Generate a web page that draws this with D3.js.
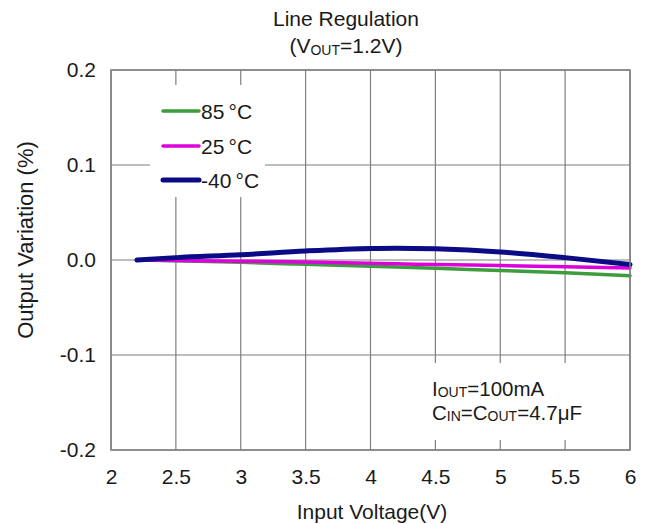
<!DOCTYPE html>
<html>
<head>
<meta charset="utf-8">
<script src="https://d3js.org/d3.v7.min.js"></script>
<style>
  body { margin: 0; background: #fff; }
  text { font-family: "Liberation Sans", Arial, sans-serif; fill: #1a1a1a; }
</style>
</head>
<body>
<div id="chart"></div>
<script>
// data
var vin = [2.2, 2.5, 3.0, 3.5, 4.0, 4.2, 4.5, 5.0, 5.5, 6.0];
var t85 = [0, -0.0008, -0.0025, -0.0045, -0.0065, -0.0073, -0.0088, -0.011, -0.0135, -0.0165];
var t25 = [0, -0.0004, -0.0012, -0.0022, -0.0035, -0.004, -0.0048, -0.0058, -0.007, -0.0085];
var tm40 = [0, 0.0025, 0.0055, 0.0095, 0.0122, 0.0125, 0.0118, 0.0085, 0.0025, -0.0048];
var seriesNames = ["85", "25", "-40"];
var xTicks = [2, 2.5, 3, 3.5, 4, 4.5, 5, 5.5, 6];
var yTicks = [-0.2, -0.1, 0, 0.1, 0.2];

var W = 653, H = 524;
var margin = {top: 70, right: 23, bottom: 74, left: 111};
var width = W - margin.left - margin.right,
    height = H - margin.top - margin.bottom;

var svg = d3.select("#chart").append("svg")
    .attr("width", W).attr("height", H);

var g = svg.append("g")
    .attr("transform", "translate(" + margin.left + "," + margin.top + ")");

var x = d3.scaleLinear().domain([2, 6]).range([0, width]);
var y = d3.scaleLinear().domain([-0.2, 0.2]).range([height, 0]);

// grid
g.append("g").selectAll("line").data(xTicks).enter().append("line")
    .attr("x1", function(d) { return x(d); }).attr("x2", function(d) { return x(d); })
    .attr("y1", 0).attr("y2", height)
    .attr("stroke", "#7f7f7f").attr("stroke-width", 1.2);
g.append("g").selectAll("line").data(yTicks).enter().append("line")
    .attr("y1", function(d) { return y(d); }).attr("y2", function(d) { return y(d); })
    .attr("x1", 0).attr("x2", width)
    .attr("stroke", "#7f7f7f").attr("stroke-width", 1.2);

// white boxes behind legend and note
g.append("rect").attr("x", 150 - margin.left).attr("y", 85 - margin.top)
    .attr("width", 115).attr("height", 112).attr("fill", "#fff");
g.append("rect").attr("x", 416 - margin.left).attr("y", 363 - margin.top)
    .attr("width", width - (416 - margin.left) - 1).attr("height", 77).attr("fill", "#fff");

// tick labels
var xAxis = g.append("g")
    .attr("transform", "translate(0," + height + ")")
    .call(d3.axisBottom(x).tickValues(xTicks).tickSize(0).tickPadding(19)
      .tickFormat(function(d) { return String(d); }));
xAxis.select(".domain").remove();
xAxis.selectAll("text").attr("font-size", "21px").attr("fill", "#1a1a1a")
    .style("font-family", "Liberation Sans, Arial, sans-serif");

var yAxis = g.append("g")
    .call(d3.axisLeft(y).tickValues(yTicks).tickSize(0).tickPadding(15)
      .tickFormat(function(d) { return d.toFixed(1); }));
yAxis.select(".domain").remove();
yAxis.selectAll("text").attr("font-size", "21px").attr("fill", "#1a1a1a")
    .style("font-family", "Liberation Sans, Arial, sans-serif");

// series
var colors = ["#3d9c3d", "#dd00dd", "#0b0b85"];
var widths = [3.5, 3.5, 5];
var allSeries = [t85, t25, tm40];
var line = d3.line()
    .x(function(d, i) { return x(vin[i]); })
    .y(function(d) { return y(d); })
    .curve(d3.curveMonotoneX);

allSeries.forEach(function(s, k) {
  g.append("path").datum(s)
    .attr("d", line)
    .attr("fill", "none")
    .attr("stroke", colors[k])
    .attr("stroke-width", widths[k])
    .attr("stroke-linecap", "round");
});

// plot border
g.append("rect").attr("x", 0).attr("y", 0).attr("width", width).attr("height", height)
    .attr("fill", "none").attr("stroke", "#7f7f7f").attr("stroke-width", 1.5);

// legend
var legY = [111, 146, 180];
seriesNames.forEach(function(n, k) {
  svg.append("line")
    .attr("x1", 163).attr("x2", 199).attr("y1", legY[k]).attr("y2", legY[k])
    .attr("stroke", colors[k]).attr("stroke-width", widths[k]).attr("stroke-linecap", "round");
  svg.append("text").attr("x", 201).attr("y", legY[k] + 8)
    .attr("font-size", "21px").text(n + "\u2009°C");
});

// titles
svg.append("text").attr("x", 346).attr("y", 26)
    .attr("text-anchor", "middle").attr("font-size", "21px").text("Line Regulation");
var t2 = svg.append("text").attr("x", 346).attr("y", 53)
    .attr("text-anchor", "middle").attr("font-size", "21px");
t2.append("tspan").text("(V");
t2.append("tspan").attr("font-size", "14px").attr("dy", 2).text("OUT");
t2.append("tspan").attr("dy", -2).text("=1.2V)");

svg.append("text").attr("x", 372).attr("y", 519)
    .attr("text-anchor", "middle").attr("font-size", "21px").text("Input Voltage(V)");

svg.append("text")
    .attr("transform", "translate(33,240) rotate(-90)")
    .attr("text-anchor", "middle").attr("font-size", "22px").text("Output Variation (%)");

// note
var n1 = svg.append("text").attr("x", 432).attr("y", 396).attr("font-size", "20.5px");
n1.append("tspan").text("I");
n1.append("tspan").attr("font-size", "14px").attr("dy", 1).text("OUT");
n1.append("tspan").attr("dy", -1).text("=100mA");
var n2 = svg.append("text").attr("x", 432).attr("y", 420).attr("font-size", "20.5px");
n2.append("tspan").text("C");
n2.append("tspan").attr("font-size", "14px").attr("dy", 1).text("IN");
n2.append("tspan").attr("dy", -1).text("=C");
n2.append("tspan").attr("font-size", "14px").attr("dy", 1).text("OUT");
n2.append("tspan").attr("dy", -1).text("=4.7μF");
</script>
</body>
</html>
